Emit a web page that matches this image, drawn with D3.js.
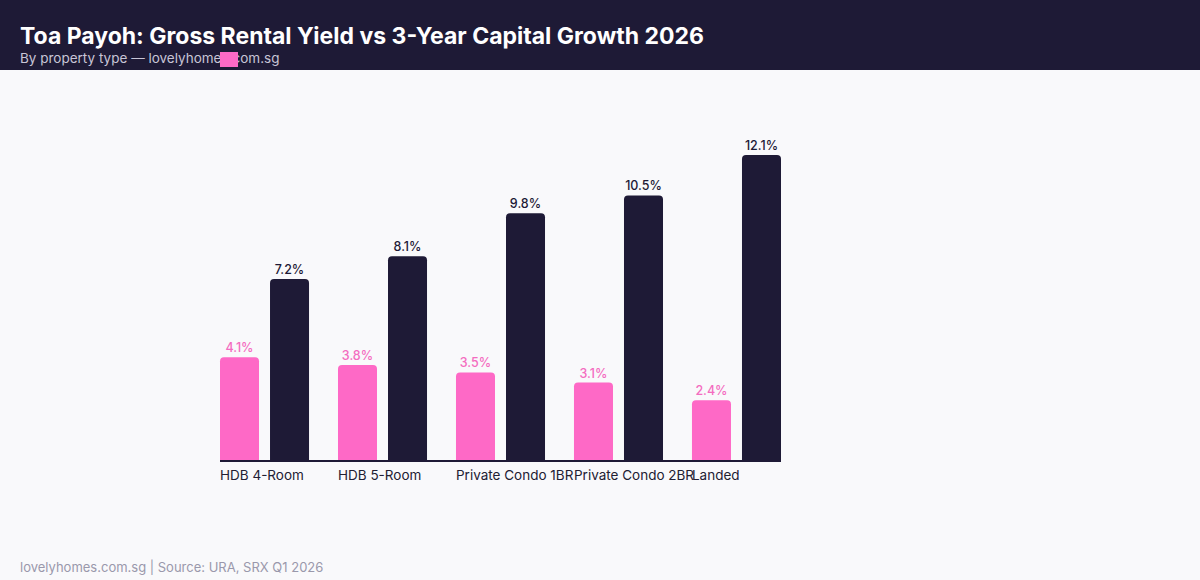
<!DOCTYPE html>
<html><head><meta charset="utf-8">
<script src="https://cdn.jsdelivr.net/npm/d3@7"></script>
<style>
html,body{margin:0;padding:0;background:#f9f9fb;}
svg{display:block;font-family:Inter, "Open Sans", sans-serif;}
</style></head><body>
<svg id="c" width="1200" height="580"></svg>
<script>
const categories = ["HDB 4-Room","HDB 5-Room","Private Condo 1BR","Private Condo 2BR","Landed"];
const rentalYield = [4.1, 3.8, 3.5, 3.1, 2.4];
const capitalGrowth = [7.2, 8.1, 9.8, 10.5, 12.1];
const seriesNames = ["Gross Rental Yield","3-Year Capital Growth"];
const colors = {yield:"#fe69c6", growth:"#1e1a36", yieldLabel:"#f46cc0"};

const svg = d3.select("#c");
svg.append("rect").attr("width",1200).attr("height",580).attr("fill","#f9f9fb");
svg.append("rect").attr("width",1200).attr("height",70).attr("fill","#1e1a36");
svg.append("text").attr("x",20).attr("y",44).attr("fill","#ffffff")
  .attr("font-size",23).attr("font-weight",700).attr("letter-spacing","0")
  .text("Toa Payoh: Gross Rental Yield vs 3-Year Capital Growth 2026");
svg.append("text").attr("x",20).attr("y",63).attr("fill","#c8c5d6")
  .attr("font-size",13.5)
  .text("By property type — lovelyhomes.com.sg");
// legend swatch
svg.append("rect").attr("x",220).attr("y",52).attr("width",18).attr("height",15).attr("fill",colors.yield);

const data = categories.map((c,i)=>({cat:c, vals:[{k:"yield",v:rentalYield[i]},{k:"growth",v:capitalGrowth[i]}]}));

const base = 461;
const y = d3.scaleLinear().domain([0, d3.max(capitalGrowth)*1.1]).range([base, base - 306*1.1]);
const x0 = d3.scaleBand().domain(categories).range([220, 782]).paddingInner(0.237).paddingOuter(0);
const x1 = d3.scaleBand().domain(["yield","growth"]).range([0, x0.bandwidth()-1]).paddingInner(0.22);

function topRounded(x, yT, w, h, r){
  r = Math.min(r, h/2, w/2);
  return `M${x},${yT+h}V${yT+r}Q${x},${yT} ${x+r},${yT}H${x+w-r}Q${x+w},${yT} ${x+w},${yT+r}V${yT+h}Z`;
}

const g = svg.append("g");
const groups = g.selectAll("g.grp").data(data).join("g").attr("class","grp")
  .attr("transform", d=>`translate(${x0(d.cat)},0)`);
groups.selectAll("path").data(d=>d.vals).join("path")
  .attr("d", d=>topRounded(x1(d.k), y(d.v), x1.bandwidth(), base - y(d.v), 4))
  .attr("fill", d=>colors[d.k]);
groups.selectAll("text.val").data(d=>d.vals).join("text").attr("class","val")
  .attr("x", d=>x1(d.k)+x1.bandwidth()/2).attr("y", d=>y(d.v)-5)
  .attr("text-anchor","middle").attr("font-size",12.5).attr("font-weight",500)
  .attr("fill", d=>d.k==="yield"?colors.yieldLabel:"#1e1a36")
  .text(d=>d.v.toFixed(1)+"%");

// x axis
const xAxis = d3.axisBottom(x0).tickSize(0).tickPadding(0);
const ax = svg.append("g").attr("transform",`translate(0,${base})`).call(xAxis);
ax.select(".domain").attr("d",`M220,0H781`).attr("stroke","#1e1a36").attr("stroke-width",2);
ax.selectAll(".tick").attr("transform", d=>`translate(${x0(d)},0)`);
ax.selectAll(".tick text").attr("text-anchor","start").attr("x",0).attr("y",19)
  .attr("dy",0).attr("font-size",13.5).attr("font-family","Inter, sans-serif").attr("fill","#222033");

svg.append("text").attr("x",20).attr("y",572).attr("fill","#9a98ab").attr("font-size",13)
  .text("lovelyhomes.com.sg | Source: URA, SRX Q1 2026");
</script>
</body></html>
